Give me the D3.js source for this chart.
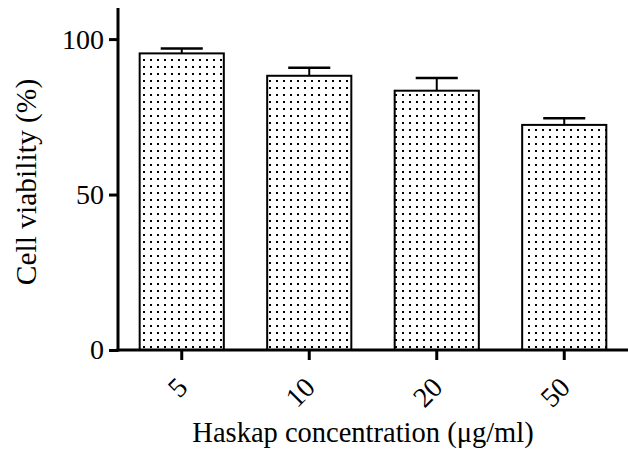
<!DOCTYPE html>
<html>
<head>
<meta charset="utf-8">
<script src="https://cdn.jsdelivr.net/npm/d3@7"></script>
<style>
  html, body { margin: 0; padding: 0; background: #fff; }
  svg { display: block; }
  text { font-family: "Liberation Serif", "Times New Roman", serif; fill: #000; }
</style>
</head>
<body>
<svg id="chart" width="628" height="458"></svg>
<script>
const categories = ["5", "10", "20", "50"];
const means = [95.4, 88.2, 83.4, 72.4];
const errors = [1.6, 2.6, 4.1, 2.1];
const yTicks = [0, 50, 100];
const yTitle = "Cell viability (%)";
const xTitle = "Haskap concentration (\u03bcg/ml)";

const svg = d3.select("#chart");
const mLeft = 118, mRight = 628, mTop = 8, mBottom = 350;

const x = d3.scaleBand().domain(categories).range([mLeft, mRight]).paddingInner(0.34).paddingOuter(0.17);
const y = d3.scaleLinear().domain([0, 110]).range([mBottom, mTop]);

// dot pattern
const defs = svg.append("defs");
const pat = defs.append("pattern").attr("id", "dots").attr("patternUnits", "userSpaceOnUse")
  .attr("width", 7).attr("height", 7).attr("x", 0).attr("y", 0);
pat.append("rect").attr("width", 7).attr("height", 7).attr("fill", "#fff");
pat.append("rect").attr("x", 3).attr("y", 3).attr("width", 2).attr("height", 2).attr("fill", "#000");

const data = categories.map((c, i) => ({c, m: means[i], e: errors[i]}));

// bars
svg.append("g").selectAll("rect").data(data).join("rect")
  .attr("x", d => x(d.c))
  .attr("y", d => y(d.m))
  .attr("width", x.bandwidth())
  .attr("height", d => y(0) - y(d.m))
  .attr("fill", "url(#dots)")
  .attr("stroke", "#000")
  .attr("stroke-width", 2);

// error bars
const eg = svg.append("g").attr("stroke", "#000");
eg.selectAll("line.v").data(data).join("line").attr("class", "v")
  .attr("x1", d => x(d.c) + x.bandwidth() / 2)
  .attr("x2", d => x(d.c) + x.bandwidth() / 2)
  .attr("y1", d => y(d.m))
  .attr("y2", d => y(d.m + d.e))
  .attr("stroke-width", 2);
eg.selectAll("line.cap").data(data).join("line").attr("class", "cap")
  .attr("x1", d => x(d.c) + x.bandwidth() / 2 - x.bandwidth() / 4)
  .attr("x2", d => x(d.c) + x.bandwidth() / 2 + x.bandwidth() / 4)
  .attr("y1", d => y(d.m + d.e))
  .attr("y2", d => y(d.m + d.e))
  .attr("stroke-width", 2.5);

// y axis
const yAxis = d3.axisLeft(y).tickValues(yTicks).tickSize(9).tickPadding(5).tickFormat(d3.format("d"));
const gy = svg.append("g").attr("transform", `translate(${mLeft},0)`).call(yAxis);
gy.select(".domain").remove();
gy.append("line").attr("x1", 0).attr("x2", 0).attr("y1", mTop).attr("y2", mBottom + 1.5)
  .attr("stroke", "#000").attr("stroke-width", 3);
gy.selectAll(".tick line").attr("stroke", "#000").attr("stroke-width", 3);
gy.selectAll(".tick text").attr("font-size", 28).attr("font-family", "Liberation Serif").attr("fill", "#000");

// x axis
const xAxis = d3.axisBottom(x).tickSize(10).tickFormat(d => d);
const gx = svg.append("g").attr("transform", `translate(0,${mBottom})`).call(xAxis);
gx.select(".domain").remove();
gx.append("line").attr("x1", mLeft - 1.5).attr("x2", mRight).attr("y1", 0).attr("y2", 0)
  .attr("stroke", "#000").attr("stroke-width", 3);
gx.selectAll(".tick line").attr("stroke", "#000").attr("stroke-width", 3);
gx.selectAll(".tick text")
  .attr("font-size", 28).attr("font-family", "Liberation Serif").attr("fill", "#000")
  .attr("text-anchor", "end")
  .attr("dy", null).attr("y", null)
  .attr("transform", "translate(7.5,39) rotate(-45)");

// titles
svg.append("text").attr("text-anchor", "middle")
  .attr("transform", "translate(36,182) rotate(-90)")
  .attr("font-size", 29.5).text(yTitle);
svg.append("text").attr("text-anchor", "middle")
  .attr("x", 363).attr("y", 442)
  .attr("font-size", 28.5).text(xTitle);
</script>
</body>
</html>
